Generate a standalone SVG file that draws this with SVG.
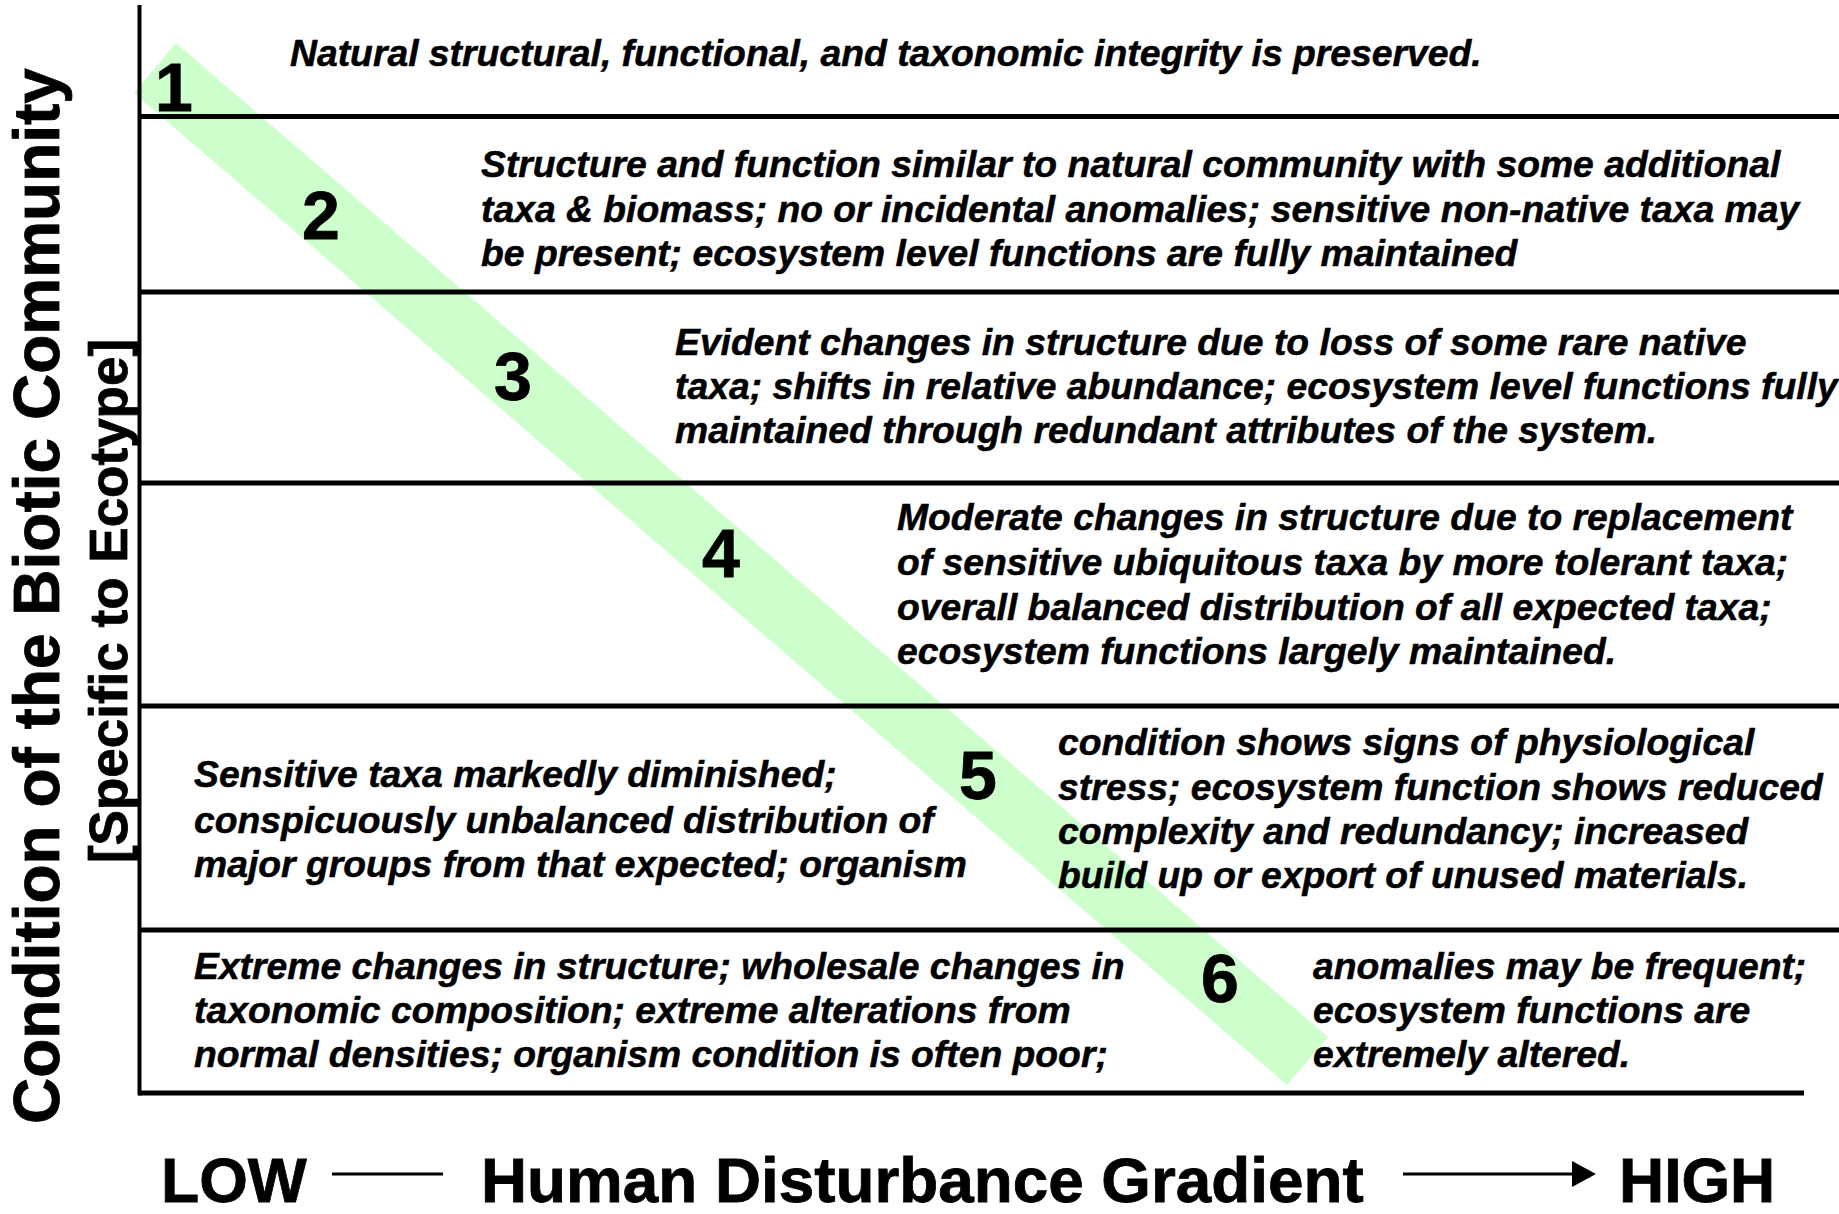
<svg xmlns="http://www.w3.org/2000/svg" width="1839" height="1214" viewBox="0 0 1839 1214">
<style>
.body{font-family:"Liberation Sans",Arial,sans-serif;font-weight:bold;font-style:italic;font-size:37.3px;fill:#000;stroke:#000;stroke-width:0.5}
.num{font-family:"Liberation Sans",Arial,sans-serif;font-weight:bold;font-size:68px;fill:#000;text-anchor:middle;stroke:#000;stroke-width:0.8}
.axis{font-family:"Liberation Sans",Arial,sans-serif;font-weight:bold;fill:#000;stroke:#000;stroke-width:0.8}
.rule{stroke:#000;stroke-width:5;fill:none}
</style>
<defs>
<marker id="arr" markerWidth="24" markerHeight="26" refX="0" refY="13" orient="auto" markerUnits="userSpaceOnUse" viewBox="0 0 24 26">
<path d="M0,0 L24,13 L0,26 Z" fill="#000"/>
</marker>
</defs>
<rect width="1839" height="1214" fill="#fff"/>
<g id="band">
<polygon points="176,43 1328,1037 1287,1085 134,93" fill="#ccffcc"/>
</g>
<g id="grid">
<line class="rule" x1="139" y1="116.5" x2="1839" y2="116.5"/>
<line class="rule" x1="139" y1="292" x2="1839" y2="292"/>
<line class="rule" x1="139" y1="483" x2="1839" y2="483"/>
<line class="rule" x1="139" y1="706" x2="1839" y2="706"/>
<line class="rule" x1="139" y1="930" x2="1839" y2="930"/>
<line class="rule" x1="139" y1="1093" x2="1804" y2="1093"/>
<line x1="139.5" y1="5" x2="139.5" y2="1095.5" stroke="#000" stroke-width="4"/>
</g>
<g id="level1">
<text class="num" x="174" y="111">1</text>
<text class="body" x="290" y="66">Natural structural, functional, and taxonomic integrity is preserved.</text>
</g>
<g id="level2">
<text class="num" x="321" y="239">2</text>
<text class="body" x="481" y="177">Structure and function similar to natural community with some additional</text>
<text class="body" x="481" y="222">taxa &amp; biomass; no or incidental anomalies; sensitive non-native taxa may</text>
<text class="body" x="481" y="266">be present; ecosystem level functions are fully maintained</text>
</g>
<g id="level3">
<text class="num" x="513" y="400">3</text>
<text class="body" x="675" y="355">Evident changes in structure due to loss of some rare native</text>
<text class="body" x="675" y="399">taxa; shifts in relative abundance; ecosystem level functions fully</text>
<text class="body" x="675" y="443">maintained through redundant attributes of the system.</text>
</g>
<g id="level4">
<text class="num" x="721" y="577">4</text>
<text class="body" x="897" y="530">Moderate changes in structure due to replacement</text>
<text class="body" x="897" y="575">of sensitive ubiquitous taxa by more tolerant taxa;</text>
<text class="body" x="897" y="620">overall balanced distribution of all expected taxa;</text>
<text class="body" x="897" y="664">ecosystem functions largely maintained.</text>
</g>
<g id="level5">
<text class="num" x="978" y="799">5</text>
<text class="body" x="194" y="787">Sensitive taxa markedly diminished;</text>
<text class="body" x="194" y="833">conspicuously unbalanced distribution of</text>
<text class="body" x="194" y="877">major groups from that expected; organism</text>
<text class="body" x="1058" y="755">condition shows signs of physiological</text>
<text class="body" x="1058" y="800">stress; ecosystem function shows reduced</text>
<text class="body" x="1058" y="844">complexity and redundancy; increased</text>
<text class="body" x="1058" y="888">build up or export of unused materials.</text>
</g>
<g id="level6">
<text class="num" x="1220" y="1002">6</text>
<text class="body" x="194" y="979">Extreme changes in structure; wholesale changes in</text>
<text class="body" x="194" y="1023">taxonomic composition; extreme alterations from</text>
<text class="body" x="194" y="1067">normal densities; organism condition is often poor;</text>
<text class="body" x="1313" y="979">anomalies may be frequent;</text>
<text class="body" x="1313" y="1023">ecosystem functions are</text>
<text class="body" x="1313" y="1067">extremely altered.</text>
</g>
<g id="y-axis-label">
<text class="axis" font-size="64" text-anchor="middle" transform="translate(59,596) rotate(-90)">Condition of the Biotic Community</text>
<text class="axis" font-size="53" text-anchor="middle" transform="translate(127,601) rotate(-90)">[Specific to Ecotype]</text>
</g>
<g id="x-axis-label">
<text class="axis" font-size="62.5" x="161" y="1202">LOW</text>
<line x1="332" y1="1174" x2="443" y2="1174" stroke="#000" stroke-width="3"/>
<text class="axis" font-size="63.8" x="481" y="1202">Human Disturbance Gradient</text>
<line x1="1403" y1="1174" x2="1572" y2="1174" stroke="#000" stroke-width="3" marker-end="url(#arr)"/>
<text class="axis" font-size="62.5" x="1619" y="1202">HIGH</text>
</g>
</svg>
